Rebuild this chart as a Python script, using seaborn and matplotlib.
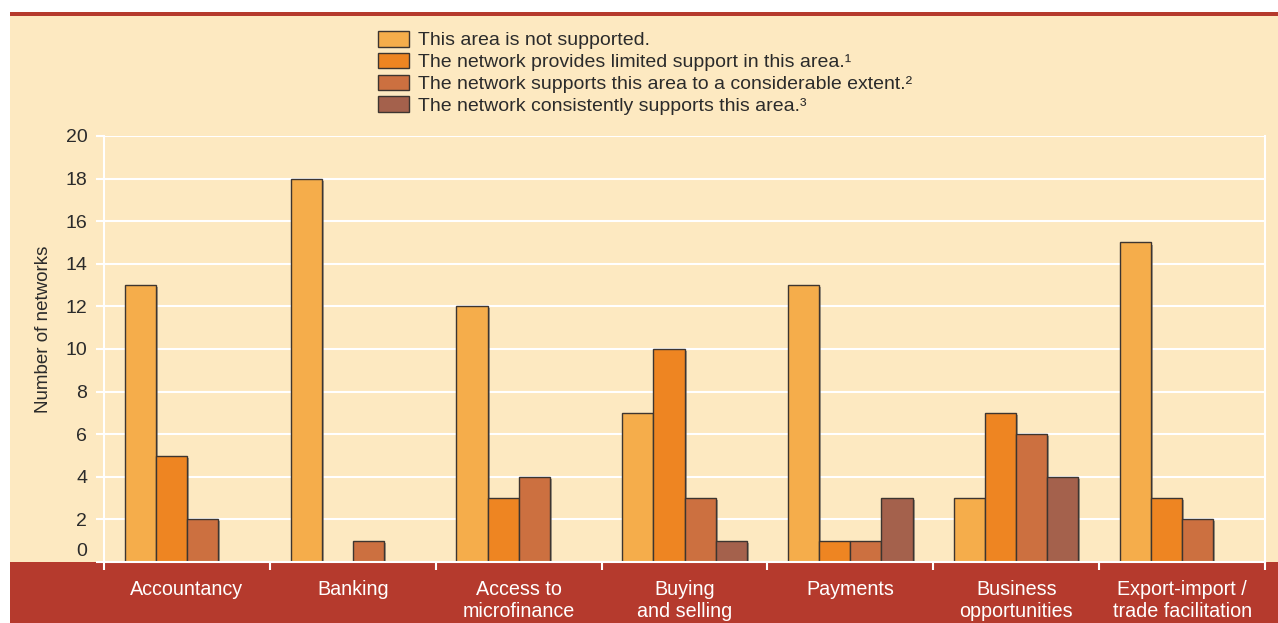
import pandas as pd
import matplotlib.pyplot as plt
import matplotlib.patheffects as pe
from matplotlib.patches import Rectangle, Patch
from matplotlib.transforms import ScaledTranslation
import seaborn as sns

# Data
categories = ["Accountancy", "Banking", "Access to\nmicrofinance", "Buying\nand selling",
              "Payments", "Business\nopportunities", "Export-import /\ntrade facilitation"]
levels = ["This area is not supported.",
          "The network provides limited support in this area.\u00b9",
          "The network supports this area to a considerable extent.\u00b2",
          "The network consistently supports this area.\u00b3"]
not_supported = [13, 18, 12, 7, 13, 3, 15]
limited = [5, 0, 3, 10, 1, 7, 3]
considerable = [2, 1, 4, 3, 1, 6, 2]
consistent = [0, 0, 0, 1, 3, 4, 0]
yticks = [0, 2, 4, 6, 8, 10, 12, 14, 16, 18, 20]

colors = ["#f5ad4b", "#ee8522", "#cc7040", "#a4614c"]
cream = "#fde9c1"
red = "#b53a2d"
edge = "#3d3530"
txt = "#2b2b2b"

rows = []
for series, level in zip([not_supported, limited, considerable, consistent], levels):
    for cat, v in zip(categories, series):
        rows.append({"category": cat, "level": level, "count": v})
df = pd.DataFrame(rows)
df_plot = df[df["count"] > 0]

sns.set_theme(style="white")
plt.rcParams["font.family"] = ["Liberation Sans", "DejaVu Sans"]

W, H = 1278, 623
fig = plt.figure(figsize=(W / 100, H / 100), dpi=100, facecolor="white")

# background panels
fig.patches.append(Rectangle((10 / W, 0), 1 - 10 / W, 1 - 16 / H, transform=fig.transFigure,
                             facecolor=cream, edgecolor="none", zorder=-3))
fig.patches.append(Rectangle((10 / W, 1 - 16 / H), 1 - 10 / W, 4 / H, transform=fig.transFigure,
                             facecolor=red, edgecolor="none", zorder=-2))
fig.patches.append(Rectangle((10 / W, 0), 1 - 10 / W, 61 / H, transform=fig.transFigure,
                             facecolor=red, edgecolor="none", zorder=-2))

ax = fig.add_axes([104 / W, 61 / H, (1265 - 104) / W, (562 - 136) / H])
ax.set_facecolor("none")

sns.barplot(data=df_plot, x="category", y="count", hue="level", order=categories,
            hue_order=levels, palette=colors, width=0.75, dodge=True,
            edgecolor=edge, linewidth=1, saturation=1, legend=False, ax=ax)

shadow = [pe.SimplePatchShadow(offset=(1.5, -1.5), shadow_rgbFace="#555555", alpha=0.5), pe.Normal()]
for p in ax.patches:
    p.set_path_effects(shadow)

ax.set_xlim(-0.5, len(categories) - 0.5)
ax.set_ylim(0, 20)
ax.set_yticks(yticks)
ax.set_yticklabels([str(t) for t in yticks])
ax.grid(axis="y", color="white", linewidth=1.5)
ax.set_axisbelow(True)
ax.spines["top"].set_visible(False)
for s in ["left", "right", "bottom"]:
    ax.spines[s].set_color("white")
    ax.spines[s].set_linewidth(1.5)

ax.tick_params(axis="y", which="major", length=6, width=1.5, color="white",
               labelsize=14, labelcolor=txt, pad=6, left=True)
ax.set_xticks(range(len(categories)))
ax.set_xticklabels(categories)
ax.tick_params(axis="x", which="major", length=0, pad=13, labelsize=14.2, labelcolor="white")
ax.set_xticks([i - 0.5 for i in range(len(categories) + 1)], minor=True)
ax.tick_params(axis="x", which="minor", length=6, width=1.5, color="white", bottom=True)
for lab in ax.get_xticklabels():
    lab.set_linespacing(1.2)

# lift the "0" label above the red band
zero_lab = ax.get_yticklabels()[0]
zero_lab.set_transform(zero_lab.get_transform() + ScaledTranslation(0, 12 / 100, fig.dpi_scale_trans))

ax.set_xlabel("")
ax.set_ylabel("Number of networks", fontsize=13.5, color=txt)
ax.yaxis.set_label_coords(-0.045, 0.547)

handles = [Patch(facecolor=c, edgecolor=edge, linewidth=1) for c in colors]
fig.legend(handles, levels, loc="upper left", bbox_to_anchor=(378 / W, 1 - 31 / H),
           frameon=False, fontsize=14, borderpad=0, borderaxespad=0,
           handlelength=1.6, handleheight=0.85, handletextpad=0.45, labelspacing=0.17,
           labelcolor=txt)

fig.savefig("out.png", dpi=100, facecolor="white")
